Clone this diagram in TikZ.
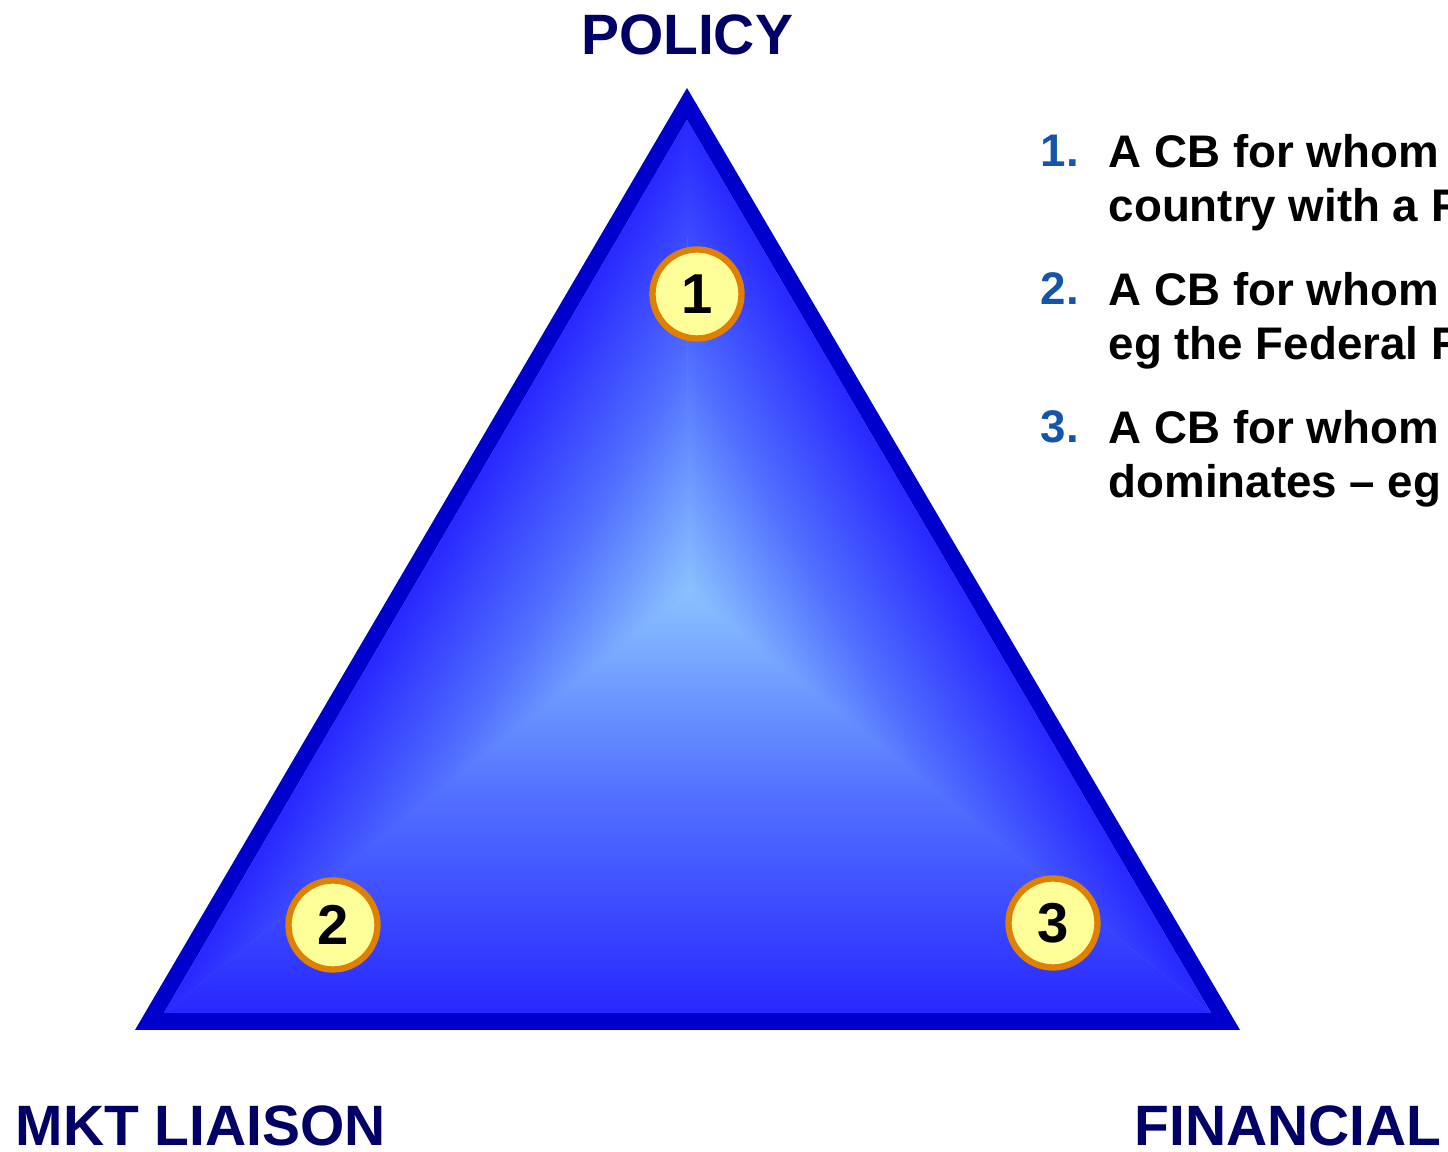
\documentclass[tikz,border=0pt]{standalone}
\usepackage{fontspec}
\setmainfont{Liberation Sans}

\definecolor{rimblue}{RGB}{0,0,204}
\definecolor{edgeblue}{RGB}{40,40,255}
\definecolor{midblue}{RGB}{80,110,255}
\definecolor{coreblue}{RGB}{138,194,255}
\definecolor{navy}{RGB}{0,0,102}
\definecolor{listblue}{RGB}{20,85,170}
\definecolor{badgefill}{RGB}{255,255,153}
\definecolor{badgering}{RGB}{224,128,0}

\tikzset{
    corner/.style={inner sep=0pt, text depth=0pt, text=navy, font=\fontsize{16.2}{18}\bfseries\selectfont},
    badge/.style={circle, draw=badgering, line width=1.8pt, fill=badgefill, minimum size=0.89cm, inner sep=0pt, font=\fontsize{16}{16}\bfseries\selectfont},
    itemno/.style={inner sep=0pt, anchor=base west, text=listblue, font=\fontsize{13}{15.6}\bfseries\selectfont},
    itemtext/.style={inner sep=0pt, anchor=base west, align=left, font=\fontsize{13}{15.6}\bfseries\selectfont},
}

\begin{document}
\begin{tikzpicture}
    \useasboundingbox (0,0) rectangle (14.48,11.52);

    % outer rim and inner face of the triangle
    \coordinate (otop) at (6.87,10.64);
    \coordinate (oleft) at (1.35,1.22);
    \coordinate (oright) at (12.40,1.22);
    \coordinate (itop) at (6.87,10.32);
    \coordinate (ileft) at (1.64,1.39);
    \coordinate (iright) at (12.11,1.39);
    \coordinate (core) at (6.88,5.62);

    \fill[rimblue] (otop)--(oleft)--(oright)--cycle;
    \fill[midblue!60!coreblue] (itop)--(ileft)--(iright)--cycle; % hides seams between facets

    % three facets, each shaded from its edge in to the core
    \foreach \a/\b/\ang/\d in {ileft/iright/0/4.23, itop/ileft/239.7/2.39, iright/itop/120.3/2.38}{
        \begin{scope}
            \clip (core)--(\a)--(\b)--cycle;
            \begin{scope}[transform canvas={shift={(core)}, rotate=\ang}]
                \shade[top color=coreblue, bottom color=edgeblue, middle color=midblue]
                    (-9,-\d) rectangle (9,0);
            \end{scope}
        \end{scope}
    }

    \node[badge] (one) at (6.97,8.58) {1};
    \node[badge] (two) at (3.33,2.27) {2};
    \node[badge] (three) at (10.53,2.29) {3};

    \node[corner, anchor=base] (policy) at (6.87,10.97) {POLICY};
    \node[corner, anchor=base west] (mkt) at (0.15,0.06) {MKT LIAISON};
    \node[corner, anchor=base east] (fin) at (14.42,0.06) {FINANCIAL};

    % numbered list on the right, each node set on its second line
    \node[itemno] (n1) at (10.40,9.85) {1.};
    \node[itemtext] (t1) at (11.08,9.30) {A CB for whom\\country with a F};
    \node[itemno] (n2) at (10.40,8.47) {2.};
    \node[itemtext] (t2) at (11.08,7.92) {A CB for whom\\eg the Federal R};
    \node[itemno] (n3) at (10.40,7.09) {3.};
    \node[itemtext] (t3) at (11.08,6.54) {A CB for whom\\dominates -- eg};
\end{tikzpicture}
\end{document}
